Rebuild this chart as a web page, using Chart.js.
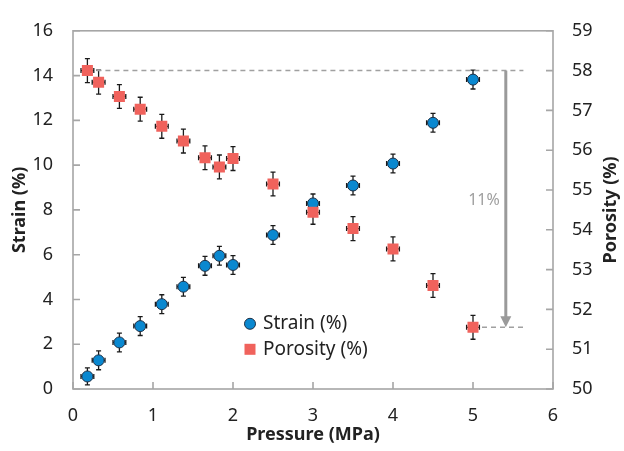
<!DOCTYPE html>
<html>
<head>
<meta charset="utf-8">
<script src="https://cdn.jsdelivr.net/npm/chart.js@4"></script>
<style>
html, body { margin: 0; padding: 0; background: #fff; }
#wrap { width: 624px; height: 451px; }
</style>
</head>
<body>
<div id="wrap"><canvas id="myChart" width="624" height="451"></canvas></div>
<script>
const pressure    = [0.18, 0.32, 0.58, 0.84, 1.11, 1.38, 1.65, 1.83, 2.0, 2.5, 3.0, 3.5, 4.0, 4.5, 5.0];
const strain      = [0.56, 1.28, 2.08, 2.81, 3.79, 4.57, 5.50, 5.95, 5.54, 6.88, 8.29, 9.09, 10.07, 11.89, 13.82];
const porosity    = [58.0, 57.71, 57.35, 57.03, 56.60, 56.23, 55.81, 55.58, 55.79, 55.15, 54.44, 54.03, 53.52, 52.60, 51.55];
const pressureErr = [0.08, 0.08, 0.08, 0.08, 0.08, 0.08, 0.08, 0.08, 0.08, 0.08, 0.08, 0.08, 0.08, 0.08, 0.08];
const strainErr   = [0.38, 0.42, 0.42, 0.42, 0.42, 0.42, 0.42, 0.42, 0.42, 0.42, 0.42, 0.42, 0.42, 0.42, 0.42];
const porosityErr = [0.30, 0.30, 0.30, 0.30, 0.30, 0.30, 0.30, 0.30, 0.30, 0.30, 0.30, 0.30, 0.30, 0.30, 0.30];

// tick labels
const xTicks  = [0, 1, 2, 3, 4, 5, 6];
const yTicks  = [0, 2, 4, 6, 8, 10, 12, 14, 16];
const y2Ticks = [50, 51, 52, 53, 54, 55, 56, 57, 58, 59];

// the 11% drop marker (porosity axis)
const dropX = 5.41;
const guideEnd = 5.63;
const dropLabel = '11%';

const FONT = "'Noto Sans', 'DejaVu Sans', sans-serif";
const AXIS_GREY = '#a6a6a6';

function drawErr(ctx, xs, ys, vals, errs) {
    const cap = 2.5;
    for (let i = 0; i < pressure.length; i++) {
        const px = xs.getPixelForValue(pressure[i]);
        const py = ys.getPixelForValue(vals[i]);
        const top = ys.getPixelForValue(vals[i] + errs[i]);
        const bot = ys.getPixelForValue(vals[i] - errs[i]);
        const l = xs.getPixelForValue(pressure[i] - pressureErr[i]);
        const r = xs.getPixelForValue(pressure[i] + pressureErr[i]);
        ctx.beginPath();
        ctx.moveTo(px, top); ctx.lineTo(px, bot);
        ctx.moveTo(px - cap, top); ctx.lineTo(px + cap, top);
        ctx.moveTo(px - cap, bot); ctx.lineTo(px + cap, bot);
        ctx.moveTo(l, py); ctx.lineTo(r, py);
        ctx.moveTo(l, py - cap); ctx.lineTo(l, py + cap);
        ctx.moveTo(r, py - cap); ctx.lineTo(r, py + cap);
        ctx.stroke();
    }
}

const extras = {
    id: 'extras',
    beforeDatasetsDraw(chart) {
        const ctx = chart.ctx;
        const s = chart.scales;
        ctx.save();
        ctx.strokeStyle = '#1a1a1a';
        ctx.lineWidth = 1.3;
        drawErr(ctx, s.x, s.y, strain, strainErr);
        drawErr(ctx, s.x, s.y2, porosity, porosityErr);
        ctx.restore();
    },
    afterDraw(chart) {
        const ctx = chart.ctx;
        const a = chart.chartArea;
        const s = chart.scales;
        ctx.save();
        // frame
        ctx.strokeStyle = AXIS_GREY;
        ctx.lineWidth = 1.6;
        ctx.strokeRect(a.left, a.top, a.right - a.left, a.bottom - a.top);
        // inward tick marks
        ctx.beginPath();
        xTicks.forEach(v => { const p = s.x.getPixelForValue(v); ctx.moveTo(p, a.bottom); ctx.lineTo(p, a.bottom - 7); });
        yTicks.forEach(v => { const p = s.y.getPixelForValue(v); ctx.moveTo(a.left, p); ctx.lineTo(a.left + 7, p); });
        y2Ticks.forEach(v => { const p = s.y2.getPixelForValue(v); ctx.moveTo(a.right, p); ctx.lineTo(a.right - 7, p); });
        ctx.stroke();

        // x tick labels (placed by hand so they sit clear of the title)
        ctx.fillStyle = '#222';
        ctx.font = '18px ' + FONT;
        ctx.textAlign = 'center';
        ctx.textBaseline = 'middle';
        xTicks.forEach(v => ctx.fillText(String(v), s.x.getPixelForValue(v), a.bottom + 27));

        // right axis title, reading bottom to top like the left one
        ctx.save();
        ctx.translate(611, (a.top + a.bottom) / 2);
        ctx.rotate(-Math.PI / 2);
        ctx.font = 'bold 18px ' + FONT;
        ctx.fillText('Porosity (%)', 0, 0);
        ctx.restore();

        // drop arrow
        const ax = s.x.getPixelForValue(dropX);
        const ay1 = s.y2.getPixelForValue(porosity[0]);
        const ay2 = s.y2.getPixelForValue(porosity[porosity.length - 1]);
        ctx.strokeStyle = '#9a9a9a';
        ctx.fillStyle = '#9a9a9a';
        ctx.lineWidth = 3;
        ctx.beginPath();
        ctx.moveTo(ax, ay1);
        ctx.lineTo(ax, ay2 - 10);
        ctx.stroke();
        ctx.beginPath();
        ctx.moveTo(ax - 5.5, ay2 - 11);
        ctx.lineTo(ax + 5.5, ay2 - 11);
        ctx.lineTo(ax, ay2);
        ctx.closePath();
        ctx.fill();
        ctx.fillStyle = '#a0a0a0';
        ctx.font = '16px ' + FONT;
        ctx.textAlign = 'right';
        ctx.textBaseline = 'middle';
        ctx.fillText(dropLabel, ax - 6, (ay1 + ay2) / 2 + 1);

        // legend
        const lx = a.left + 177;
        const ly = a.top + 293;
        ctx.fillStyle = '#0a88d0';
        ctx.strokeStyle = '#1d2f45';
        ctx.lineWidth = 1;
        ctx.beginPath();
        ctx.arc(lx, ly, 5.5, 0, Math.PI * 2);
        ctx.fill();
        ctx.stroke();
        ctx.fillStyle = '#f0625c';
        ctx.fillRect(lx - 5.5, ly + 20, 11, 11);
        ctx.fillStyle = '#222';
        ctx.font = '19px ' + FONT;
        ctx.textAlign = 'left';
        ctx.fillText('Strain (%)', lx + 13, ly);
        ctx.fillText('Porosity (%)', lx + 13, ly + 25.5);
        ctx.restore();
    }
};

const ctx = document.getElementById('myChart');
const myChart = new Chart(ctx, {
    type: 'scatter',
    data: {
        datasets: [
            {
                label: 'Porosity (%)',
                data: pressure.map((p, i) => ({ x: p, y: porosity[i] })),
                yAxisID: 'y2',
                pointStyle: 'rect',
                pointRadius: 7.8,
                pointBackgroundColor: '#f0625c',
                pointBorderColor: '#f0625c',
                pointBorderWidth: 0,
                order: 1
            },
            {
                label: 'Strain (%)',
                data: pressure.map((p, i) => ({ x: p, y: strain[i] })),
                yAxisID: 'y',
                pointStyle: 'circle',
                pointRadius: 5.5,
                pointBackgroundColor: '#0a88d0',
                pointBorderColor: '#1d2f45',
                pointBorderWidth: 1,
                order: 2
            },
            {
                // dashed guide at the starting porosity
                type: 'line',
                data: [{ x: pressure[0], y: porosity[0] }, { x: guideEnd, y: porosity[0] }],
                yAxisID: 'y2',
                borderColor: '#a0a0a0',
                borderWidth: 1.5,
                borderDash: [5, 4],
                pointRadius: 0,
                order: 3
            },
            {
                // dashed guide at the final porosity
                type: 'line',
                data: [{ x: pressure[pressure.length - 1], y: porosity[porosity.length - 1] }, { x: guideEnd, y: porosity[porosity.length - 1] }],
                yAxisID: 'y2',
                borderColor: '#a0a0a0',
                borderWidth: 1.5,
                borderDash: [5, 4],
                pointRadius: 0,
                order: 3
            }
        ]
    },
    options: {
        responsive: false,
        animation: false,
        layout: { padding: { top: 14.5, left: 0, right: 0, bottom: 0 } },
        plugins: { legend: { display: false }, tooltip: { enabled: false } },
        scales: {
            x: {
                type: 'linear',
                min: 0, max: 6,
                afterBuildTicks: sc => { sc.ticks = xTicks.map(v => ({ value: v })); },
                afterFit: sc => { sc.height = 62; },
                grid: { display: false, drawTicks: false },
                border: { display: false },
                ticks: { display: false },
                title: { display: true, text: 'Pressure (MPa)', color: '#222', font: { family: FONT, size: 18, weight: 'bold' }, padding: { top: 0, bottom: 5 } }
            },
            y: {
                position: 'left',
                min: 0, max: 16,
                afterBuildTicks: sc => { sc.ticks = yTicks.map(v => ({ value: v })); },
                afterFit: sc => { sc.width = 73; },
                grid: { display: false, drawTicks: false },
                border: { display: false },
                ticks: { color: '#222', font: { family: FONT, size: 18 }, padding: 20 },
                title: { display: true, text: 'Strain (%)', color: '#222', font: { family: FONT, size: 18, weight: 'bold' }, padding: { top: 9, bottom: 0 } }
            },
            y2: {
                position: 'right',
                min: 50, max: 59,
                afterBuildTicks: sc => { sc.ticks = y2Ticks.map(v => ({ value: v })); },
                afterFit: sc => { sc.width = 71; },
                grid: { display: false, drawTicks: false },
                border: { display: false },
                ticks: { color: '#222', font: { family: FONT, size: 18 }, padding: 19 },
                title: { display: false }
            }
        }
    },
    plugins: [extras]
});
</script>
</body>
</html>
